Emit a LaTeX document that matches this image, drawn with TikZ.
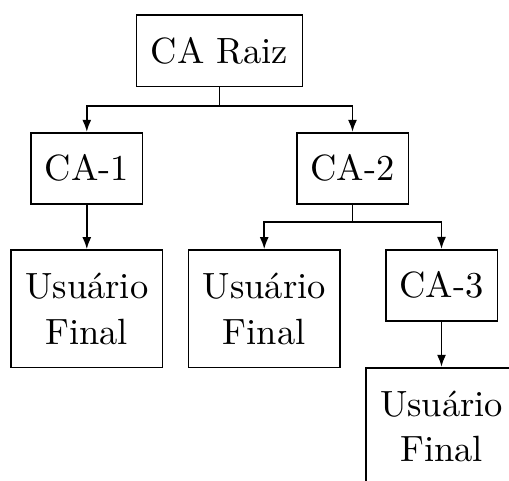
\documentclass[tikz,border=0pt]{standalone}
\usepackage{fontspec}
\usetikzlibrary{arrows.meta}
\begin{document}
\begin{tikzpicture}[x=0.3pt,y=-0.3pt,
  box/.style={draw,line width=0.5pt,inner sep=0pt,align=center,
    font=\fontsize{10.95}{13.6}\selectfont},
  smallbox/.style={box,minimum width=33.5pt,minimum height=21.3pt},
  userbox/.style={box,minimum width=45.5pt,minimum height=35.3pt},
  link/.style={line width=0.5pt},
  arr/.style={link,-{Latex[length=3.6pt,width=2.7pt]}}]
  \useasboundingbox (0,0) rectangle (509,481);
  \clip (0,0) rectangle (509,481);

  % certificate authorities
  \node[box,minimum width=49.8pt,minimum height=21.5pt] (raiz) at (219.5,50.8) {CA Raiz};
  \node[smallbox] (ca1) at (86.8,168.2) {CA-1};
  \node[smallbox] (ca2) at (352.5,168.2) {CA-2};
  \node[smallbox] (ca3) at (441.5,285.3) {CA-3};

  % end users
  \node[userbox] (uf1) at (86.8,308.8) {Usuário\\Final};
  \node[userbox] (uf2) at (264.2,308.8) {Usuário\\Final};
  \node[userbox] (uf3) at (441.5,426.5) {Usuário\\Final};

  % branch points
  \coordinate (j1) at (219.5,106);
  \coordinate (j2) at (352.5,222);

  % hierarchy links
  \draw[link] (raiz.south) -- (j1);
  \draw[arr] (j1) -| (ca1.north);
  \draw[arr] (j1) -| (ca2.north);
  \draw[arr] (ca1.south) -- (uf1.north);
  \draw[link] (ca2.south) -- (j2);
  \draw[arr] (j2) -| (uf2.north);
  \draw[arr] (j2) -| (ca3.north);
  \draw[arr] (ca3.south) -- (uf3.north);
\end{tikzpicture}
\end{document}
